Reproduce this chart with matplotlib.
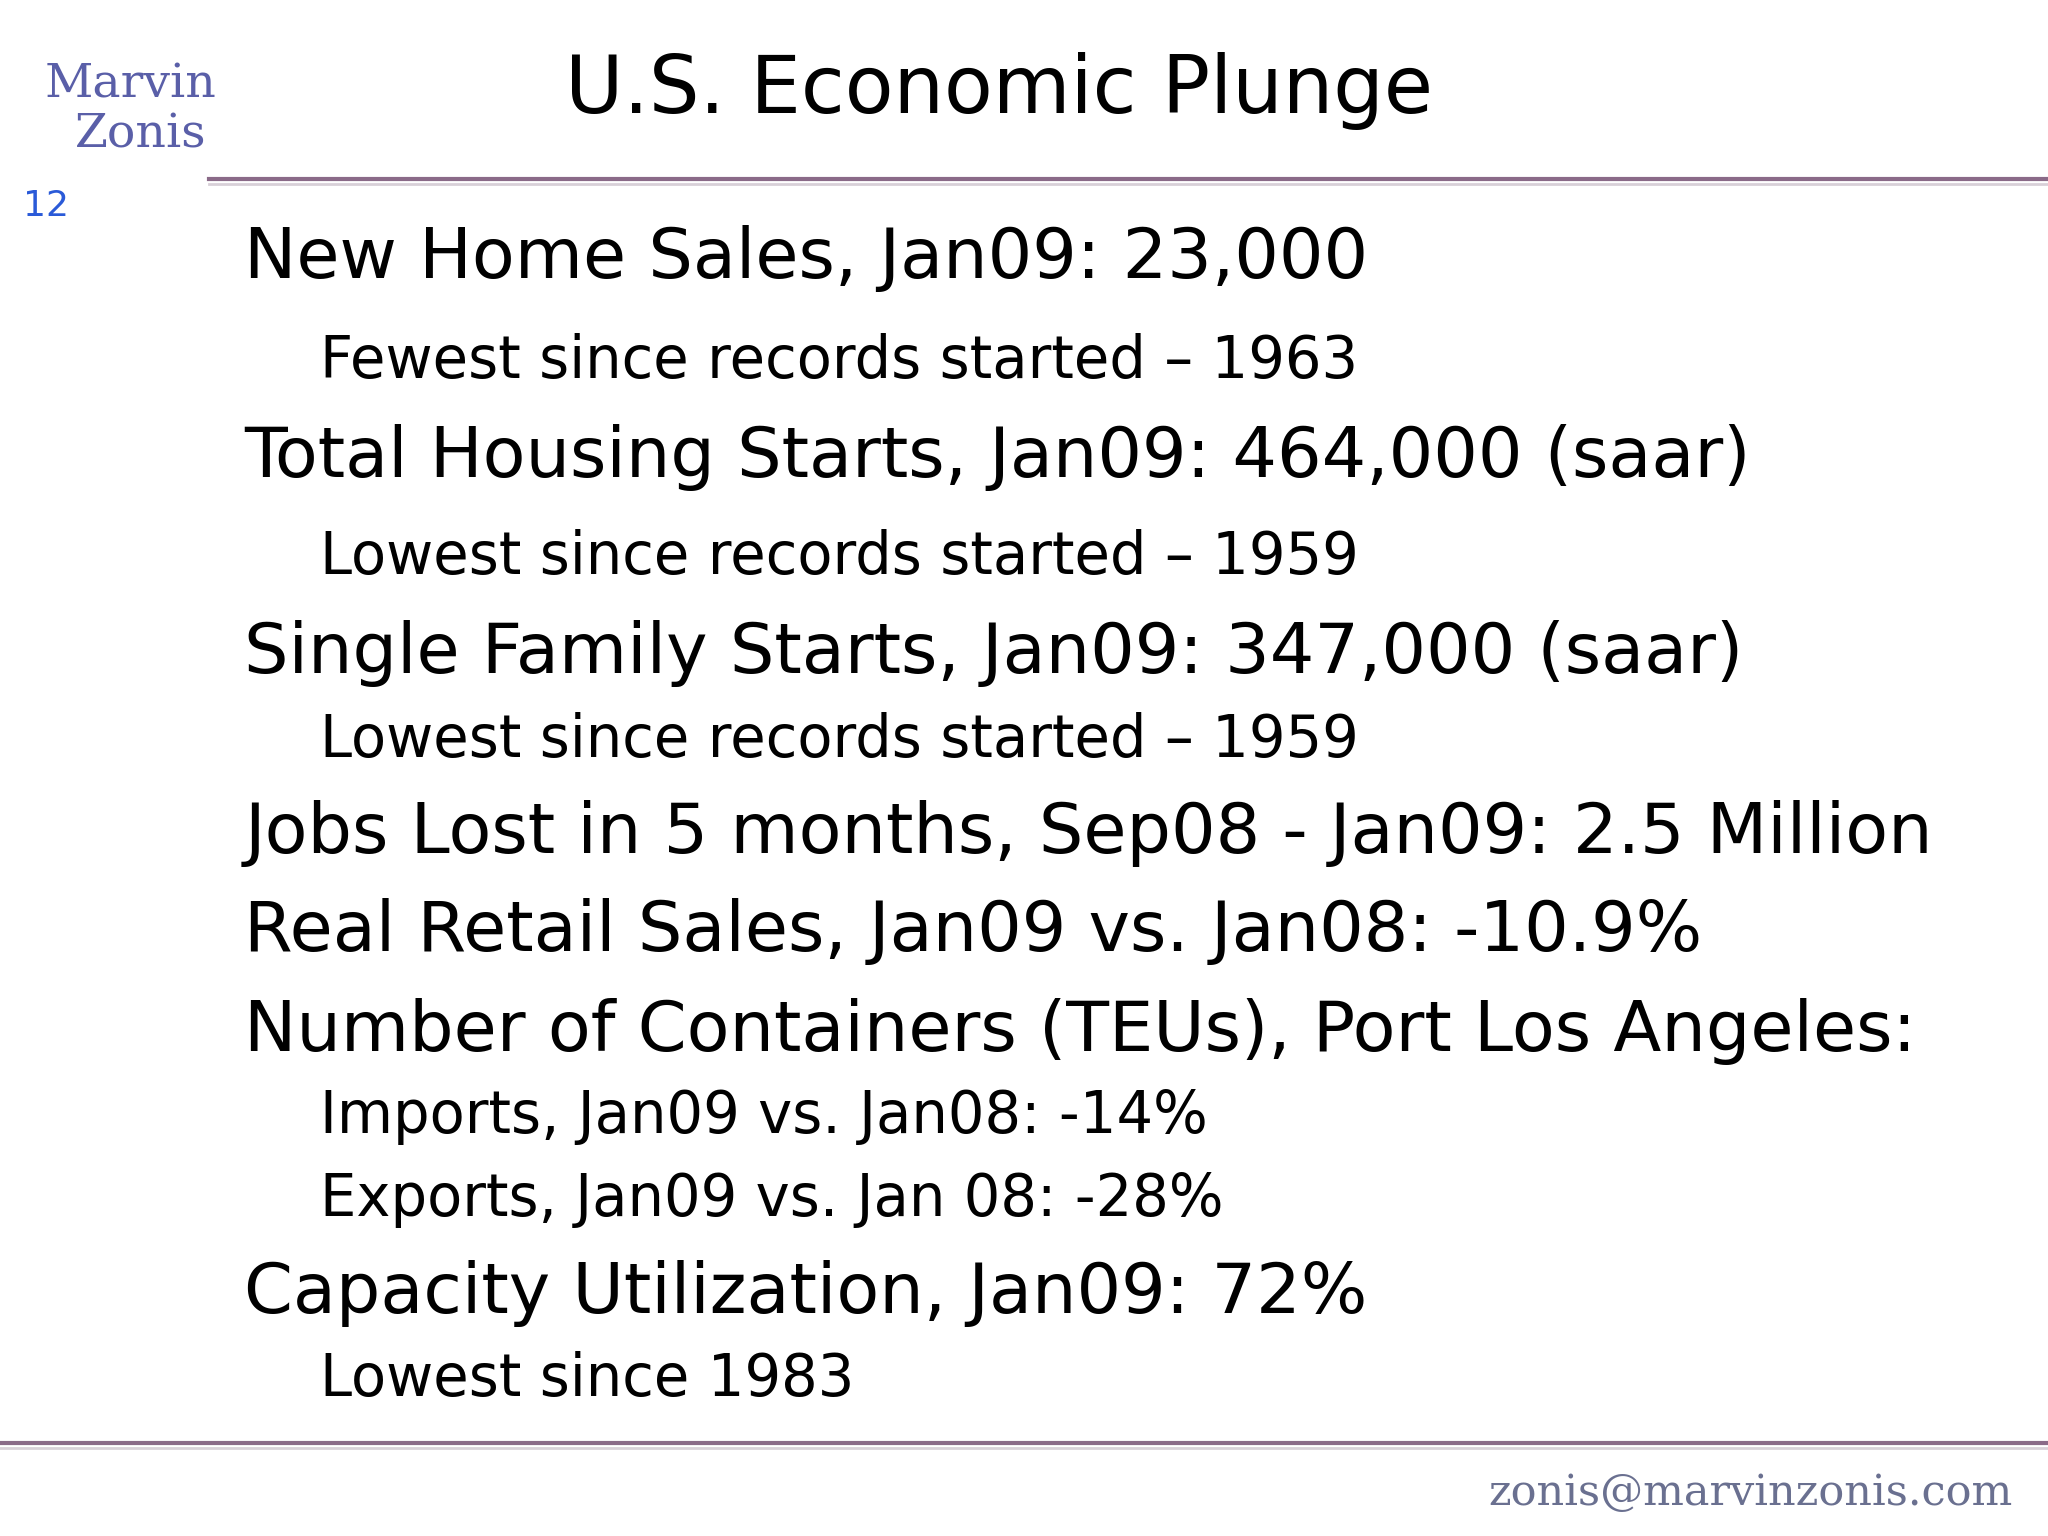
import matplotlib
matplotlib.use("Agg")
import matplotlib.pyplot as plt
from matplotlib.lines import Line2D

W, H = 1568, 1176  # reference layout units

title = "U.S. Economic Plunge"
slide_number = "12"
main_lines = [
    "New Home Sales, Jan09: 23,000",
    "Total Housing Starts, Jan09: 464,000 (saar)",
    "Single Family Starts, Jan09: 347,000 (saar)",
    "Jobs Lost in 5 months, Sep08 - Jan09: 2.5 Million",
    "Real Retail Sales, Jan09 vs. Jan08: -10.9%",
    "Number of Containers (TEUs), Port Los Angeles:",
    "Capacity Utilization, Jan09: 72%",
]
main_y = [198, 350, 500, 638, 713, 790, 990]
sub_lines = [
    "Fewest since records started \u2013 1963",
    "Lowest since records started \u2013 1959",
    "Lowest since records started \u2013 1959",
    "Imports, Jan09 vs. Jan08: -14%",
    "Exports, Jan09 vs. Jan 08: -28%",
    "Lowest since 1983",
]
sub_y = [277, 427, 567, 855, 918, 1056]
footer = "zonis@marvinzonis.com"

fig = plt.figure(figsize=(20.48, 15.36), dpi=100)
fig.patch.set_facecolor("white")

def fx(x): return x / W
def fy(y): return 1 - y / H

fig.text(fx(765), fy(70), title, fontsize=57.5, ha="center", va="center",
         family="DejaVu Sans", color="black")
for t, y in zip(main_lines, main_y):
    fig.text(fx(187), fy(y), t, fontsize=50.5, ha="left", va="center",
             family="DejaVu Sans", color="black")
for t, y in zip(sub_lines, sub_y):
    fig.text(fx(245), fy(y), t, fontsize=41.5, ha="left", va="center",
             family="DejaVu Sans", color="black")

# rules
fig.add_artist(Line2D([fx(160), 1], [fy(137), fy(137)], color="#8a6a88", lw=3))
fig.add_artist(Line2D([fx(160), 1], [fy(141), fy(141)], color="#d8d0d8", lw=2))
fig.add_artist(Line2D([0, 1], [fy(1105), fy(1105)], color="#8a6a88", lw=3))
fig.add_artist(Line2D([0, 1], [fy(1109), fy(1109)], color="#d8d0d8", lw=2))

# logo
fig.text(fx(100), fy(65), "Marvin", fontsize=34, ha="center", va="center",
         family="DejaVu Serif", color="#5a5fa8")
fig.text(fx(108), fy(103), "Zonis", fontsize=34, ha="center", va="center",
         family="DejaVu Serif", color="#5a5fa8")
fig.text(fx(35), fy(158), slide_number, fontsize=26, ha="center", va="center",
         family="DejaVu Sans", color="#2a5ad8")

# footer
fig.text(fx(1340), fy(1143), footer, fontsize=31, ha="center", va="center",
         family="DejaVu Serif", color="#6a7090")

fig.savefig("out.png", dpi=100)
